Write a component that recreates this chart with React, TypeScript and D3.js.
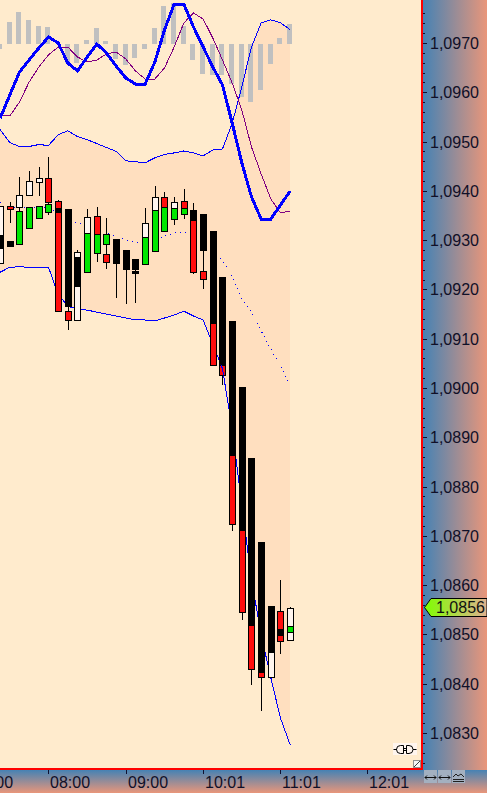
import * as d3 from 'd3'

const WIDTH = 487
const HEIGHT = 793
const PLOT_RIGHT = 421
const PLOT_BOTTOM = 768

const C_BG = '#ffebcd'
const C_SHADE = '#ffdfbf'
const C_GRAY = '#c0c0c0'
const C_BLUE = '#0000ff'
const C_PURPLE = '#800080'
const C_RED = '#ff0d0d'
const C_GREEN = '#00e600'
const C_WHITE = '#fff5ee'
const C_BLACK = '#000000'

const priceTicks = [1.097, 1.096, 1.095, 1.094, 1.093, 1.092, 1.091, 1.09, 1.089, 1.088, 1.087, 1.086, 1.085, 1.084, 1.083]
const timeLabels = ['07:00', '08:00', '09:00', '10:01', '11:01', '12:01']
const timeSlots = [-3, 5, 13, 21, 29, 37.9]
const lastPrice = 1.0856

// bollinger bands on the price scale, one value per bar
const bandUpper = [1.09524, 1.09498, 1.0949, 1.0949, 1.09494, 1.09492, 1.09514, 1.09522, 1.0951, 1.09504, 1.09496, 1.09488, 1.0948, 1.09461, 1.09459, 1.09457, 1.09467, 1.09474, 1.09477, 1.09481, 1.09477, 1.09471, 1.09483, 1.09485, 1.09537, 1.09611, 1.09692, 1.09741, 1.09747, 1.09741, 1.09727]
const bandMiddle = [1.09376, 1.09367, 1.09367, 1.09367, 1.09367, 1.09367, 1.09353, 1.09343, 1.09335, 1.09329, 1.09321, 1.09315, 1.09308, 1.093, 1.09296, 1.09294, 1.093, 1.09308, 1.09315, 1.09317, 1.09311, 1.093, 1.09278, 1.09259, 1.09227, 1.0918, 1.09154, 1.09116, 1.09079, 1.09045, 1.09006]
const bandLower = [1.09235, 1.09245, 1.09246, 1.09245, 1.09245, 1.09245, 1.0919, 1.09166, 1.0916, 1.09158, 1.09154, 1.0915, 1.09146, 1.09142, 1.09138, 1.09138, 1.09136, 1.09142, 1.09148, 1.09156, 1.09146, 1.09138, 1.09089, 1.09039, 1.08917, 1.08763, 1.08611, 1.08499, 1.08412, 1.0833, 1.08276]

// macd pane, in its own units around the zero line
const macdLine = [-74, -51, -28, -16, -4, 7, 1, -19, -27, -13, 0, -9, -22, -34, -40, -40, -18, 14, 40, 40, 17, -3, -23, -41, -79, -119, -153, -175, -175, -161, -147]
const macdSignal = [-71, -72, -58, -38, -23, -11, -3, -3, -13, -18, -16, -10, -8, -15, -27, -35, -35, -24, -3, 21, 31, 25, 6, -16, -39, -66, -103, -130, -155, -169, -167]
const macdHist = [-5, 22, 32, 24, 18, 17, 0, -19, -19, 4, 16, 3, -15, -21, -14, -5, 16, 38, 41, 18, -16, -30, -31, -31, -40, -53, -58, -46, -20, 6, 20]

// [bar, high, low]
const wicks = [
  [1, 1.09377, 1.09335], [2, 1.09428, 1.09359], [3, 1.0944, 1.0942], [4, 1.09448, 1.0939], [5, 1.09469, 1.09351],
  [6, 1.09381, 1.09154], [7, 1.09166, 1.09118], [8, 1.0928, 1.09136], [9, 1.09363, 1.09347], [10, 1.09367, 1.09256],
  [11, 1.09345, 1.09241], [12, 1.09254, 1.09183], [13, 1.09241, 1.0917], [14, 1.09241, 1.09172], [15, 1.09365, 1.09335],
  [16, 1.0941, 1.09388], [17, 1.09398, 1.09388], [18, 1.09388, 1.09331], [19, 1.09404, 1.09343], [20, 1.09375, 1.09231],
  [21, 1.0928, 1.09201], [23, 1.09026, 1.09006], [24, 1.08724, 1.0871], [25, 1.08546, 1.08529], [26, 1.0843, 1.08397],
  [27, 1.08414, 1.08345], [29, 1.0861, 1.0846], [30, 1.08556, 1.08489],
]

// [bar, top, bottom, fill]
const bodies: [number, number, number, string][] = [
  [0, 1.09369, 1.09254, C_WHITE], [0, 1.0931, 1.09284, C_BLACK],
  [1, 1.09369, 1.09363, C_RED], [1, 1.09298, 1.09288, C_BLACK],
  [2, 1.09392, 1.09367, C_WHITE], [2, 1.09359, 1.09292, C_GREEN],
  [3, 1.0942, 1.09392, C_WHITE], [3, 1.09367, 1.09325, C_GREEN],
  [4, 1.09426, 1.09418, C_WHITE], [4, 1.09369, 1.09345, C_GREEN],
  [5, 1.09426, 1.09377, C_RED], [5, 1.09373, 1.09357, C_GREEN],
  [6, 1.09379, 1.09156, C_RED], [6, 1.09365, 1.09357, C_BLACK],
  [7, 1.09363, 1.09166, C_BLACK], [7, 1.09156, 1.09138, C_RED],
  [8, 1.09276, 1.09138, C_WHITE], [8, 1.09266, 1.09207, C_BLACK],
  [9, 1.09347, 1.09315, C_WHITE], [9, 1.09315, 1.09235, C_GREEN],
  [10, 1.09349, 1.09312, C_RED], [10, 1.09312, 1.09274, C_GREEN],
  [11, 1.09312, 1.09292, C_GREEN], [11, 1.09272, 1.09256, C_RED],
  [12, 1.09302, 1.09254, C_BLACK],
  [13, 1.0928, 1.09241, C_BLACK],
  [14, 1.09262, 1.09241, C_BLACK], [14, 1.09237, 1.09233, C_BLACK],
  [15, 1.09335, 1.09306, C_WHITE], [15, 1.09306, 1.09252, C_GREEN],
  [16, 1.09388, 1.09361, C_WHITE], [16, 1.09361, 1.09278, C_GREEN],
  [17, 1.09388, 1.09367, C_RED], [17, 1.09367, 1.09319, C_GREEN],
  [18, 1.09377, 1.09365, C_WHITE], [18, 1.09365, 1.09343, C_GREEN],
  [19, 1.09379, 1.09365, C_RED], [19, 1.09365, 1.09353, C_GREEN],
  [20, 1.09361, 1.09341, C_BLACK], [20, 1.09341, 1.09235, C_RED],
  [21, 1.09353, 1.0928, C_BLACK], [21, 1.09237, 1.09221, C_RED],
  [22, 1.09319, 1.09132, C_BLACK], [22, 1.09132, 1.09047, C_RED],
  [23, 1.09225, 1.09047, C_BLACK], [23, 1.09047, 1.09026, C_RED],
  [24, 1.09136, 1.08864, C_BLACK], [24, 1.08864, 1.08724, C_RED],
  [25, 1.09002, 1.08712, C_BLACK], [25, 1.08712, 1.08546, C_RED],
  [26, 1.08858, 1.08519, C_BLACK], [26, 1.08519, 1.0843, C_RED],
  [27, 1.08688, 1.08424, C_BLACK], [27, 1.08424, 1.08414, C_RED],
  [28, 1.08558, 1.08464, C_BLACK], [28, 1.08464, 1.08414, C_WHITE],
  [29, 1.08548, 1.08511, C_RED], [29, 1.08511, 1.08499, C_BLACK], [29, 1.08499, 1.08487, C_RED],
  [30, 1.08554, 1.08517, C_WHITE], [30, 1.08517, 1.08505, C_GREEN], [30, 1.08505, 1.08489, C_WHITE],
]

const x = d3.scaleLinear().domain([0, 30]).range([0.16, 290.16])
const y = d3.scaleLinear().domain([1.097, 1.083]).range([43, 733])
const macdY = d3.scaleLinear().domain([-100, 100]).range([144, -56])

const px = (v: number) => Math.round(v)
// the platform snaps bars to whole pixels, 7px wide
const barLeft = (i: number) => Math.ceil(x(i) - 3.5)

export default function App() {
  const bars = d3.range(31)
  const bandArea = d3.area<number>()
    .x(i => x(i))
    .y0(i => y(bandLower[i]))
    .y1(i => y(bandUpper[i]))
  const priceLine = (vals: number[]) => d3.line<number>().x((_, i) => x(i)).y(v => y(v))(vals) || ''
  const macdPath = (vals: number[]) => d3.line<number>().x((_, i) => x(i)).y(v => macdY(v))(vals) || ''
  const minorTicks = d3.range(0, 81).map(k => 1.0976 - k * 0.0002)
  const tagY = px(y(lastPrice)) + 2
  const font = '"Liberation Sans", Arial, sans-serif'
  const redOver = bodies.find(b => b[0] === 23 && b[3] === C_RED)!

  return (
    <svg
      width={WIDTH}
      height={HEIGHT}
      viewBox={`0 0 ${WIDTH} ${HEIGHT}`}
      style={{ position: 'fixed', left: 0, top: 0, display: 'block' }}
    >
      <defs>
        <linearGradient id="axisH" x1="0" y1="0" x2="1" y2="0">
          <stop offset="0%" stopColor="#4682b4" />
          <stop offset="100%" stopColor="#e9967a" />
        </linearGradient>
        <linearGradient id="axisV" x1="0" y1="0" x2="0" y2="1">
          <stop offset="0%" stopColor="#4682b4" />
          <stop offset="100%" stopColor="#e9967a" />
        </linearGradient>
        <linearGradient id="tag" x1="0" y1="0" x2="1" y2="0">
          <stop offset="0%" stopColor="#7fff00" />
          <stop offset="100%" stopColor="#e0b090" />
        </linearGradient>
        <clipPath id="plot">
          <rect x={0} y={0} width={PLOT_RIGHT} height={PLOT_BOTTOM} />
        </clipPath>
        <clipPath id="redOver">
          <rect x={barLeft(23)} y={y(redOver[1])} width={7} height={y(redOver[2]) - y(redOver[1])} />
        </clipPath>
      </defs>

      <rect x={0} y={0} width={WIDTH} height={HEIGHT} fill={C_BG} />

      <g clipPath="url(#plot)">
        <path d={bandArea(bars) || ''} fill={C_SHADE} shapeRendering="crispEdges" />

        {macdHist.map((v, i) => (
          <rect
            key={`hist-${i}`}
            x={barLeft(i)}
            y={Math.min(macdY(v), macdY(0))}
            width={5}
            height={Math.abs(macdY(v) - macdY(0))}
            fill={C_GRAY}
          />
        ))}

        <g shapeRendering="crispEdges" fill="none">
          <path d={priceLine(bandUpper)} stroke={C_BLUE} strokeWidth={1} />
          <path d={priceLine(bandLower)} stroke={C_BLUE} strokeWidth={1} />
          <path d={priceLine(bandMiddle)} stroke={C_BLUE} strokeWidth={1} strokeDasharray="1 4" />
          <path d={macdPath(macdSignal)} stroke={C_PURPLE} strokeWidth={1} />
          <path d={macdPath(macdLine)} stroke={C_BLUE} strokeWidth={3} />
        </g>

        {wicks.map(([bar, hi, lo]) => (
          <line
            key={`wick-${bar}`}
            x1={barLeft(bar) + 3.5}
            x2={barLeft(bar) + 3.5}
            y1={y(hi)}
            y2={y(lo)}
            stroke={C_BLACK}
            shapeRendering="crispEdges"
          />
        ))}

        {bodies.map(([bar, top, bottom, fill], i) => (
          <rect
            key={`body-${i}`}
            x={barLeft(bar) + 0.5}
            y={px(y(top)) + 0.5}
            width={6}
            height={Math.max(1, px(y(bottom)) - px(y(top)))}
            fill={fill}
            stroke={C_BLACK}
            strokeWidth={1}
          />
        ))}

        {/* lower band runs over this one body */}
        <path
          d={priceLine(bandLower)}
          fill="none"
          stroke={C_BLUE}
          clipPath="url(#redOver)"
          shapeRendering="crispEdges"
        />

        {/* plot window icons */}
        <rect x={393} y={743} width={24} height={12} fill="#fff5ee" />
        <g fill="none" stroke={C_BLACK} strokeWidth={1}>
          <path d="M393.5 749.5 H397 M413 749.5 H416.5" />
          <path d="M403.5 745.5 H400.5 A4 4 0 0 0 400.5 753.5 H403.5 V745.5 M403.5 748.5 H406.5 M403.5 750.5 H406.5" />
          <path d="M406.5 745.5 V753.5 H409 A4 4 0 0 0 409 745.5 H406.5" />
        </g>
        <rect x={413.5} y={760.5} width={7} height={7} fill="#f6f6f6" stroke="#909090" />
        <path d="M414 767 L420 761" stroke="#404040" />
      </g>

      {/* price axis */}
      <rect x={PLOT_RIGHT + 2} y={0} width={WIDTH - PLOT_RIGHT - 2} height={PLOT_BOTTOM + 2} fill="url(#axisH)" />
      <rect x={PLOT_RIGHT} y={0} width={2} height={PLOT_BOTTOM + 2} fill="#ff0000" />
      {minorTicks.filter(t => y(t) < PLOT_BOTTOM).map((t, i) => (
        <line
          key={`minor-${i}`}
          x1={423}
          x2={425}
          y1={px(y(t)) + 0.5}
          y2={px(y(t)) + 0.5}
          stroke="#101030"
        />
      ))}
      {priceTicks.map(t => (
        <g key={t}>
          <line x1={423} x2={427} y1={px(y(t)) + 0.5} y2={px(y(t)) + 0.5} stroke="#101030" />
          <text x={430} y={y(t) + 6} fontFamily={font} fontSize={16} fill="#101028">
            {t.toFixed(4).replace('.', ',')}
          </text>
        </g>
      ))}

      {/* last price tag */}
      <path
        d={`M424.5 ${tagY + 0.5} L431 ${tagY - 8.5} H487 V${tagY + 9.5} H431 Z`}
        fill="url(#tag)"
        stroke={C_BLACK}
      />
      <text x={436} y={tagY + 6} fontFamily={font} fontSize={16} fill="#101010">
        {lastPrice.toFixed(4).replace('.', ',')}
      </text>

      {/* time axis */}
      <rect x={0} y={PLOT_BOTTOM + 2} width={WIDTH} height={HEIGHT - PLOT_BOTTOM - 2} fill="url(#axisV)" />
      <rect x={0} y={PLOT_BOTTOM} width={PLOT_RIGHT + 2} height={2} fill="#ff0000" />
      {timeLabels.map((label, i) => (
        <g key={label}>
          <line
            x1={px(x(timeSlots[i])) + 0.5}
            x2={px(x(timeSlots[i])) + 0.5}
            y1={770}
            y2={774}
            stroke="#101030"
          />
          <text x={px(x(timeSlots[i])) + 2} y={788} fontFamily={font} fontSize={16} fill="#101028">
            {label}
          </text>
        </g>
      ))}

      {/* toolbar buttons */}
      {[424, 438, 452].map((bx, i) => (
        <g key={bx}>
          <rect x={bx} y={770} width={13} height={13} fill="#a3b0c0" />
          {i < 2 ? (
            <path
              d={`M${bx + 1} 777.5 H${bx + 12} M${bx + 3} 775.5 L${bx + 1} 777.5 L${bx + 3} 779.5 M${bx + 10} 775.5 L${bx + 12} 777.5 L${bx + 10} 779.5`}
              fill="none"
              stroke="#101010"
            />
          ) : (
            <path
              d={`M${bx + 1} 777 L${bx + 4} 774 L${bx + 6} 776 L${bx + 9} 774 L${bx + 12} 777 M${bx + 1} 779.5 H${bx + 12} M${bx + 1} 781.5 H${bx + 12}`}
              fill="none"
              stroke="#202020"
            />
          )}
        </g>
      ))}
    </svg>
  )
}
